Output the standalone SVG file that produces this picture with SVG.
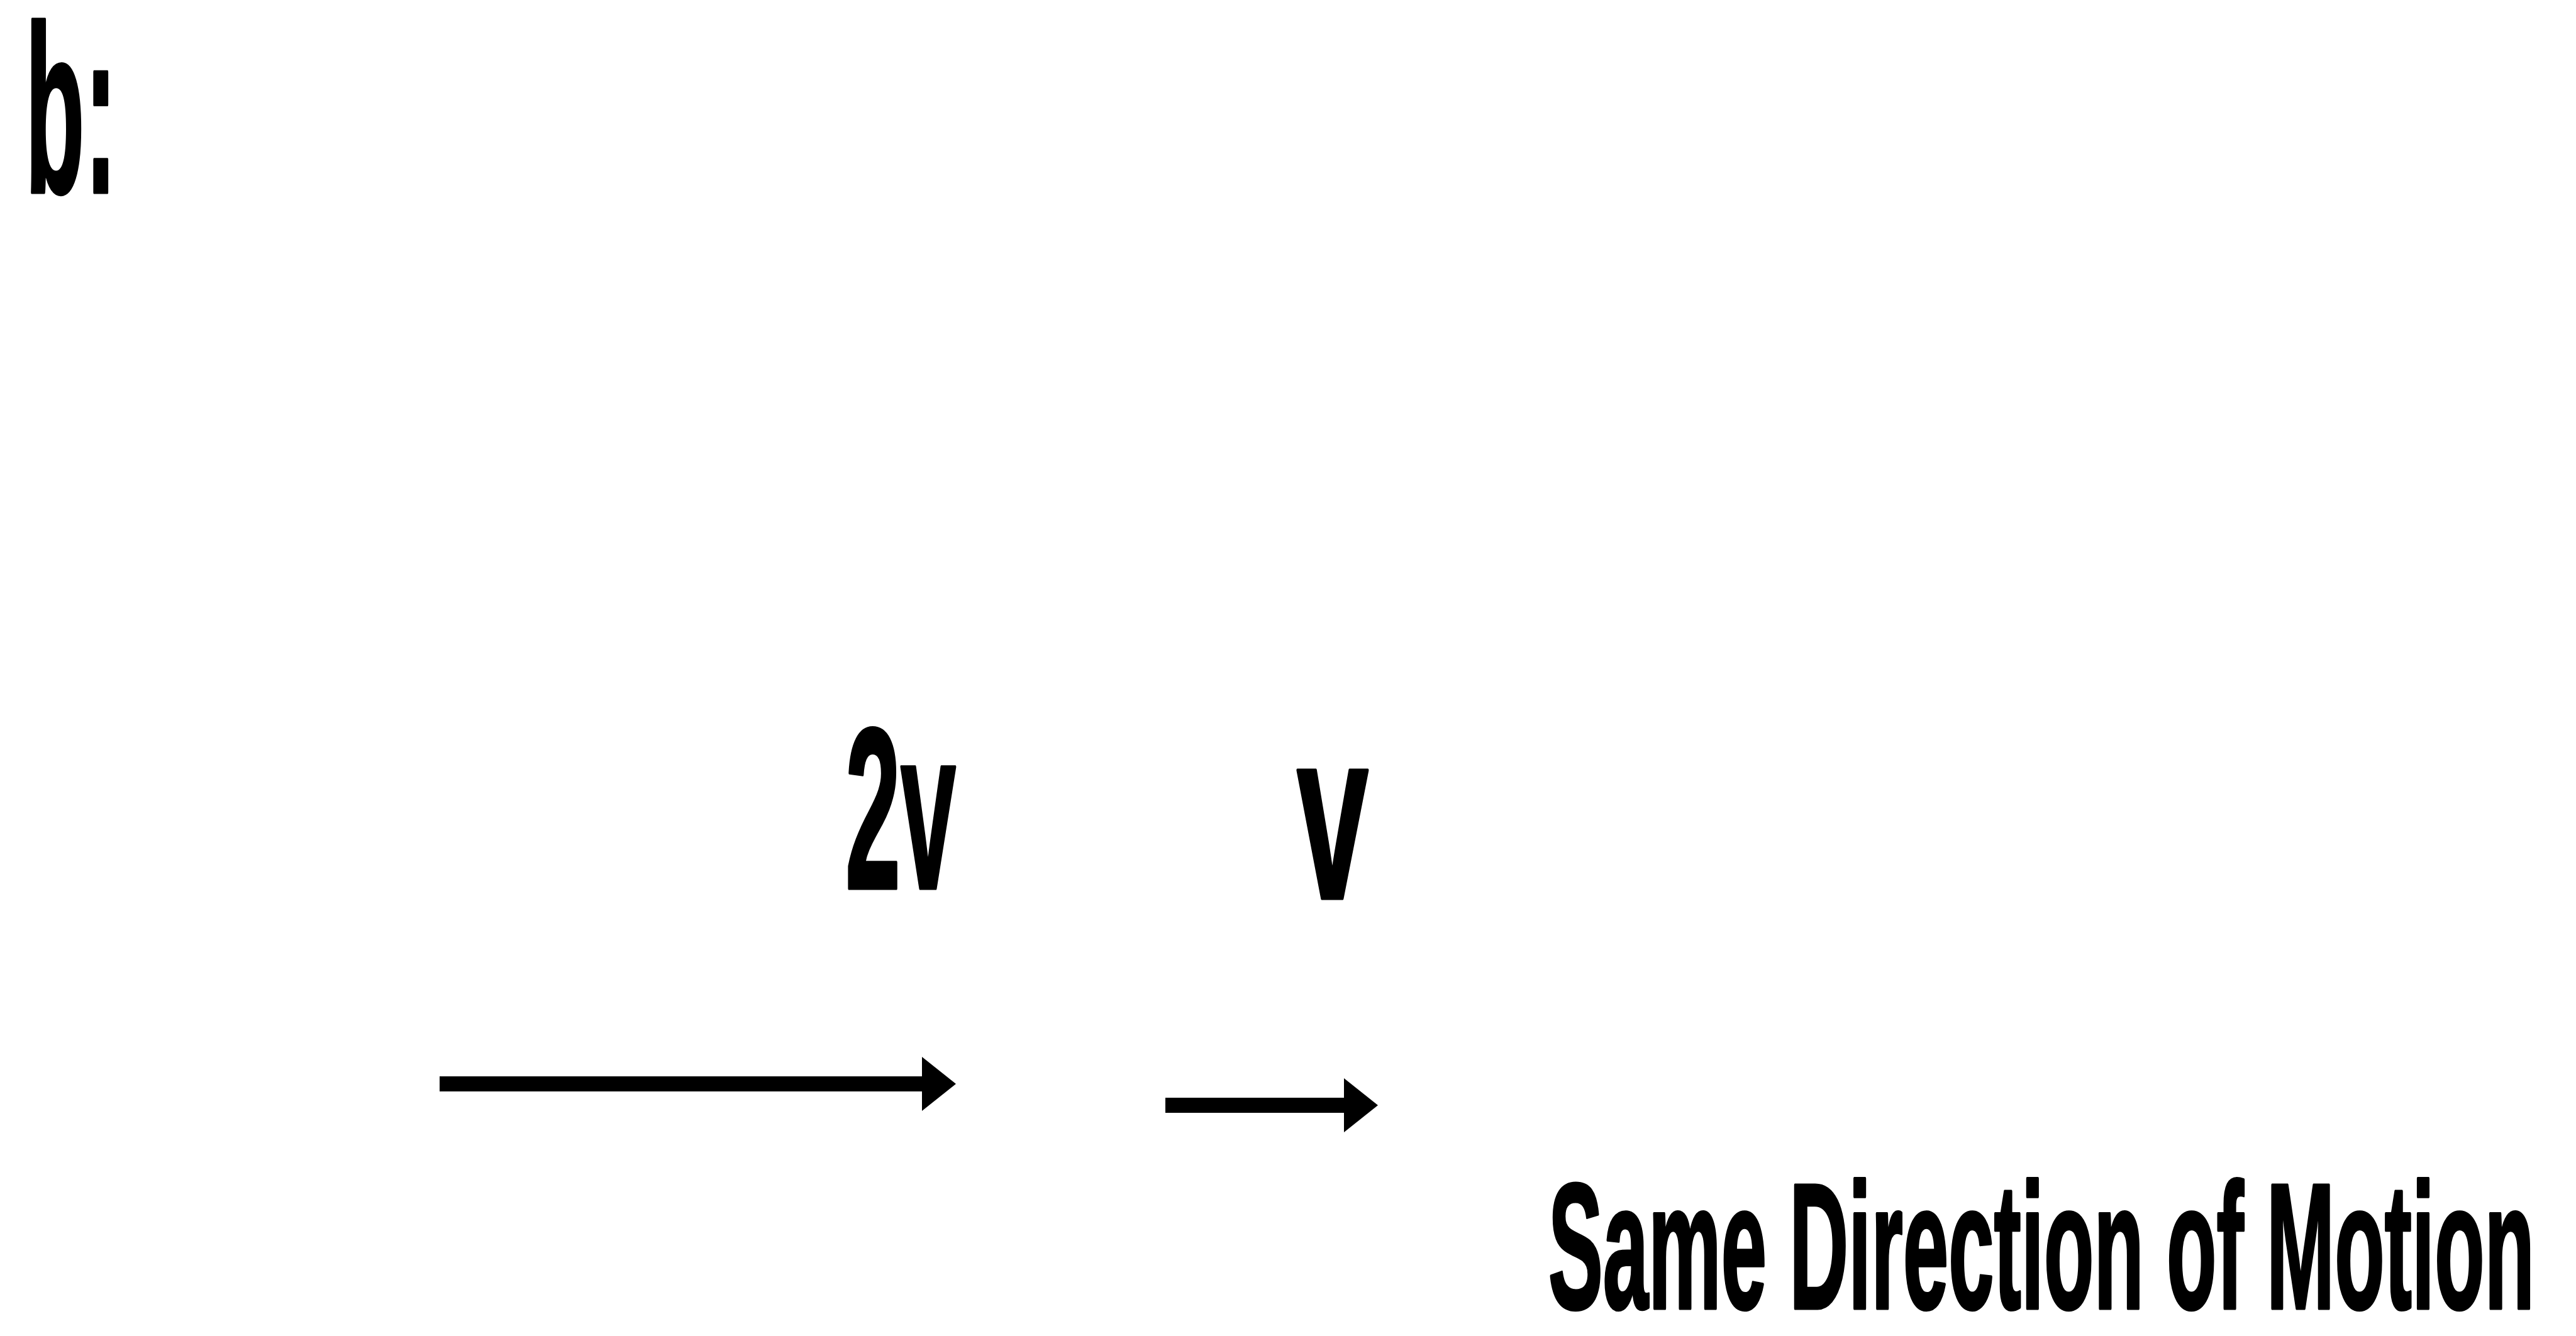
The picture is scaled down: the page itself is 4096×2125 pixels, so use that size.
<svg xmlns="http://www.w3.org/2000/svg" width="4096" height="2125" viewBox="0 0 4096 2125">
<style>
.t{font-family:"Liberation Sans",Arial,sans-serif;font-weight:bold;fill:#000;stroke:#000;stroke-width:5;stroke-linejoin:round}
.c{stroke:#000;stroke-width:24;fill:none;marker-end:url(#ah)}
</style>
<defs>
<marker id="ah" viewBox="0 0 54 86" markerWidth="54" markerHeight="86" refX="2" refY="43" orient="auto" markerUnits="userSpaceOnUse">
<path d="M0,0 L54,43 L0,86 Z" fill="#000"/>
</marker>
</defs>
<rect width="4096" height="2125" fill="#fff"/>
<g id="label-b"><text class="t" x="40" y="306" font-size="380" textLength="146" lengthAdjust="spacingAndGlyphs">b:</text></g>
<g id="label-2v"><text class="t" x="1344" y="1413" font-size="366" textLength="176" lengthAdjust="spacingAndGlyphs">2v</text></g>
<g id="label-v"><text class="t" x="2062" y="1429" font-size="386" textLength="114" lengthAdjust="spacingAndGlyphs">v</text></g>
<g id="caption"><text class="t" x="2462" y="2081" font-size="285" textLength="1568" lengthAdjust="spacingAndGlyphs">Same Direction of Motion</text></g>
<g id="connectors">
<line class="c" x1="699" y1="1724" x2="1468" y2="1724"/>
<line class="c" x1="1853" y1="1758" x2="2139" y2="1758"/>
</g>
</svg>
